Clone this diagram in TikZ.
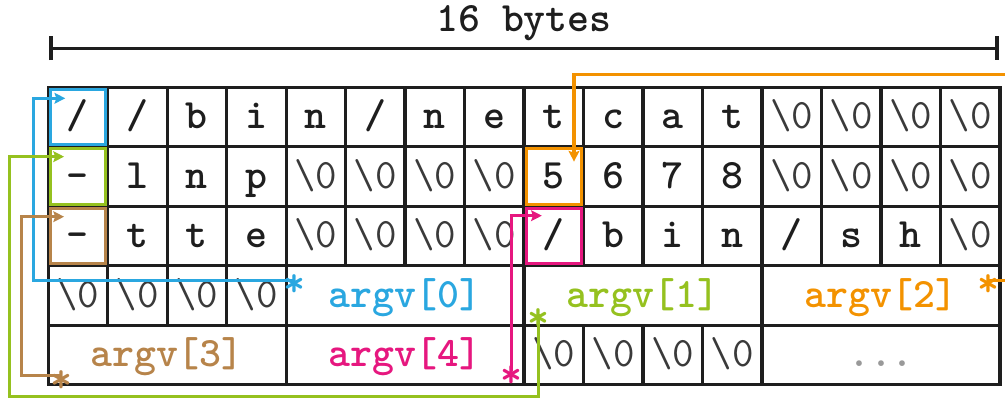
\documentclass[tikz,border=0pt]{standalone}
\usepackage{fontspec}
\usetikzlibrary{arrows.meta}
\definecolor{cblue}{HTML}{2AA7E0}
\definecolor{cgreen}{HTML}{95C11F}
\definecolor{corange}{HTML}{F39200}
\definecolor{cmag}{HTML}{E6177F}
\definecolor{cbrown}{HTML}{B7844A}
\definecolor{cline}{HTML}{1E1E1E}
\definecolor{cnul}{HTML}{3A3A3A}
\newcommand\ttbig{\fontsize{20}{24}\selectfont\ttfamily\bfseries}
\newcommand\ttnul{\fontsize{20}{24}\selectfont\ttfamily\mdseries}
\newcommand\nz{\textbackslash0}
\tikzset{
  cell/.style={draw=cline, line width=1.45pt, minimum width=1cm, minimum height=1cm,
    inner sep=0pt, outer sep=0pt, font=\ttbig, text height=15pt, text depth=3.6pt, text=cline},
  wide/.style={cell, minimum width=4cm},
  nul/.style={cell, font=\ttnul, text=cnul},
  hl/.style={draw=#1, line width=1.35pt},
  conn/.style={draw=#1, line width=1.45pt, -{Stealth[length=0.18cm,width=0.18cm,inset=0.03cm]}},
  ast/.style={text=#1, font=\ttbig, inner sep=0pt, yshift=-2.5pt},
}
\begin{document}
\begin{tikzpicture}
\clip (-0.807,-5.222) rectangle (16.084,1.467);
\useasboundingbox (-0.807,-5.222) rectangle (16.084,1.467);
% dimension
\coordinate (dl) at (0.02,0.655);
\coordinate (dr) at (15.98,0.655);
\draw[line width=1.5pt, draw=cline, {Bar[width=0.4cm,line width=1.8pt]}-{Bar[width=0.4cm,line width=1.8pt]}] (dl) -- (dr);
\node[font=\ttbig, text=cline, anchor=base] (title) at (8,0.934) {16 bytes};
% row 1
\node[cell] (a0) at (0.5,-0.5) {/};
\node[cell] (a1) at (1.5,-0.5) {/};
\node[cell] (a2) at (2.5,-0.5) {b};
\node[cell] (a3) at (3.5,-0.5) {i};
\node[cell] (a4) at (4.5,-0.5) {n};
\node[cell] (a5) at (5.5,-0.5) {/};
\node[cell] (a6) at (6.5,-0.5) {n};
\node[cell] (a7) at (7.5,-0.5) {e};
\node[cell] (a8) at (8.5,-0.5) {t};
\node[cell] (a9) at (9.5,-0.5) {c};
\node[cell] (a10) at (10.5,-0.5) {a};
\node[cell] (a11) at (11.5,-0.5) {t};
\node[nul] (a12) at (12.5,-0.5) {\nz};
\node[nul] (a13) at (13.5,-0.5) {\nz};
\node[nul] (a14) at (14.5,-0.5) {\nz};
\node[nul] (a15) at (15.5,-0.5) {\nz};
% row 2
\node[cell] (b0) at (0.5,-1.5) {-};
\node[cell] (b1) at (1.5,-1.5) {l};
\node[cell] (b2) at (2.5,-1.5) {n};
\node[cell] (b3) at (3.5,-1.5) {p};
\node[nul] (b4) at (4.5,-1.5) {\nz};
\node[nul] (b5) at (5.5,-1.5) {\nz};
\node[nul] (b6) at (6.5,-1.5) {\nz};
\node[nul] (b7) at (7.5,-1.5) {\nz};
\node[cell] (b8) at (8.5,-1.5) {5};
\node[cell] (b9) at (9.5,-1.5) {6};
\node[cell] (b10) at (10.5,-1.5) {7};
\node[cell] (b11) at (11.5,-1.5) {8};
\node[nul] (b12) at (12.5,-1.5) {\nz};
\node[nul] (b13) at (13.5,-1.5) {\nz};
\node[nul] (b14) at (14.5,-1.5) {\nz};
\node[nul] (b15) at (15.5,-1.5) {\nz};
% row 3
\node[cell] (c0) at (0.5,-2.5) {-};
\node[cell] (c1) at (1.5,-2.5) {t};
\node[cell] (c2) at (2.5,-2.5) {t};
\node[cell] (c3) at (3.5,-2.5) {e};
\node[nul] (c4) at (4.5,-2.5) {\nz};
\node[nul] (c5) at (5.5,-2.5) {\nz};
\node[nul] (c6) at (6.5,-2.5) {\nz};
\node[nul] (c7) at (7.5,-2.5) {\nz};
\node[cell] (c8) at (8.5,-2.5) {/};
\node[cell] (c9) at (9.5,-2.5) {b};
\node[cell] (c10) at (10.5,-2.5) {i};
\node[cell] (c11) at (11.5,-2.5) {n};
\node[cell] (c12) at (12.5,-2.5) {/};
\node[cell] (c13) at (13.5,-2.5) {s};
\node[cell] (c14) at (14.5,-2.5) {h};
\node[nul] (c15) at (15.5,-2.5) {\nz};
% row 4
\node[nul] (d0) at (0.5,-3.5) {\nz};
\node[nul] (d1) at (1.5,-3.5) {\nz};
\node[nul] (d2) at (2.5,-3.5) {\nz};
\node[nul] (d3) at (3.5,-3.5) {\nz};
\node[wide, text=cblue] (arg0) at (6,-3.5) {argv[0]};
\node[wide, text=cgreen] (arg1) at (10,-3.5) {argv[1]};
\node[wide, text=corange] (arg2) at (14,-3.5) {argv[2]};
% row 5
\node[wide, text=cbrown] (arg3) at (2,-4.5) {argv[3]};
\node[wide, text=cmag] (arg4) at (6,-4.5) {argv[4]};
\node[nul] (e8) at (8.5,-4.5) {\nz};
\node[nul] (e9) at (9.5,-4.5) {\nz};
\node[nul] (e10) at (10.5,-4.5) {\nz};
\node[nul] (e11) at (11.5,-4.5) {\nz};
\node[wide, text=black!40] (more) at (14,-4.5) {...};
% highlights
\draw[hl=cblue] ([shift={(0.035,-0.035)}]a0.north west) rectangle ([shift={(-0.035,0.035)}]a0.south east);
\draw[hl=cgreen] ([shift={(0.035,-0.035)}]b0.north west) rectangle ([shift={(-0.035,0.035)}]b0.south east);
\draw[hl=cbrown] ([shift={(0.035,-0.035)}]c0.north west) rectangle ([shift={(-0.035,0.035)}]c0.south east);
\draw[hl=corange] ([shift={(0.035,-0.035)}]b8.north west) rectangle ([shift={(-0.035,0.035)}]b8.south east);
\draw[hl=cmag] ([shift={(0.035,-0.035)}]c8.north west) rectangle ([shift={(-0.035,0.035)}]c8.south east);
% pointer origins
\coordinate (p0) at (4.15,-3.24);
\coordinate (p1) at (8.25,-3.81);
\coordinate (p2) at (15.80,-3.24);
\coordinate (p3) at (0.23,-4.85);
\coordinate (p4) at (7.79,-4.77);
% connectors
\draw[conn=cblue] (p0) -- ++(-4.40,0) |- ([shift={(0.29,-0.185)}]a0.north west);
\draw[conn=cgreen] (p1) |- (-0.655,-5.20) |- ([shift={(0.27,-0.166)}]b0.north west);
\draw[conn=corange] (p2) -- ++(0.6,0) |- ([shift={(0.84,1.207)}]b8.north west) -- ([shift={(0.84,-0.25)}]b8.north west);
\draw[conn=cbrown] (p3) -- ++(-0.67,0) |- ([shift={(0.27,-0.175)}]c0.north west);
\draw[conn=cmag] (p4) |- ([shift={(0.30,-0.158)}]c8.north west);
% asterisks
\node[ast=cblue] (s0) at (p0) {*};
\node[ast=cgreen] (s1) at (p1) {*};
\node[ast=corange] (s2) at (p2) {*};
\node[ast=cbrown] (s3) at (p3) {*};
\node[ast=cmag] (s4) at (p4) {*};
\end{tikzpicture}
\end{document}
